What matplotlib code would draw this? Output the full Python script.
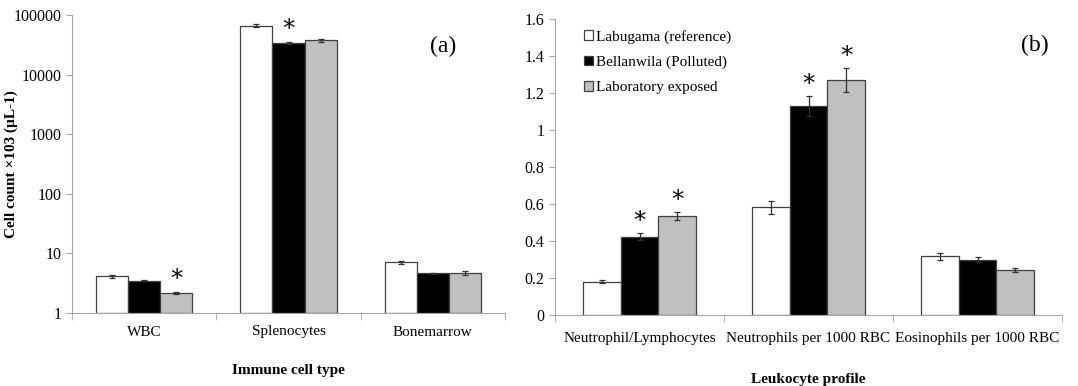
import numpy as np
import matplotlib
matplotlib.use('Agg')
import matplotlib.pyplot as plt

plt.rcParams['font.family'] = ['Liberation Serif', 'DejaVu Serif']

series = ["Labugama (reference)", "Bellanwila (Polluted)", "Laboratory exposed"]
colors = ["white", "black", "#c0c0c0"]

# panel (a): immune cell counts (log scale)
cells = ["WBC", "Splenocytes", "Bonemarrow"]
cell_means = [
    [4.1, 65800, 7.1],   # Labugama
    [3.5, 34000, 4.6],   # Bellanwila
    [2.15, 37500, 4.7],  # Laboratory
]
cell_err = [
    [0.25, 3500, 0.35],
    [0.08, 1800, 0.12],
    [0.1, 2200, 0.3],
]
cell_stars = [
    [False, False, False],
    [False, True, False],
    [True, False, False],
]

# panel (b): leukocyte profile
leuko = ["Neutrophil/Lymphocytes", "Neutrophils per 1000 RBC", "Eosinophils per 1000 RBC"]
leuko_means = [
    [0.18, 0.582, 0.318],
    [0.423, 1.13, 0.300],
    [0.533, 1.27, 0.242],
]
leuko_err = [
    [0.008, 0.035, 0.018],
    [0.018, 0.055, 0.015],
    [0.022, 0.065, 0.012],
]
leuko_stars = [
    [False, False, False],
    [True, True, False],
    [True, True, False],
]

W, H = 1078, 386
fig = plt.figure(figsize=(W / 100, H / 100), dpi=100)
ax1 = fig.add_axes([72 / W, 1 - 313 / H, 433 / W, 298 / H])
ax2 = fig.add_axes([555 / W, 1 - 315 / H, 507 / W, 296 / H])

spine_col = '#a6a6a6'
bar_w = 0.222


def draw_panel(ax, cats, means, errs, stars, log, pad):
    x = np.arange(len(cats))
    base = 1 if log else 0
    for i in range(3):
        pos = x + (i - 1) * bar_w
        ax.bar(pos, np.array(means[i]) - base, bar_w, bottom=base, color=colors[i],
               edgecolor='#404040', linewidth=0.9, label=series[i], zorder=2)
        ax.errorbar(pos, means[i], yerr=errs[i], fmt='none', ecolor='#303030',
                    elinewidth=0.9, capsize=2.5, capthick=0.9, zorder=3)
        for j in range(len(cats)):
            if stars[i][j]:
                top = means[i][j] + errs[i][j]
                y = top * 1.02 if log else top + 0.0
                ax.text(pos[j], y, '*', ha='center', va='bottom', fontsize=18,
                        family='DejaVu Sans', zorder=4)
    ax.set_xlim(-0.5, len(cats) - 0.5)
    ax.set_xticks(x)
    ax.set_xticklabels(cats, fontsize=11)
    ax.set_xticks(np.arange(-0.5, len(cats)), minor=True)
    ax.tick_params(axis='x', which='major', length=0, pad=pad)
    ax.tick_params(axis='x', which='minor', length=5, color=spine_col)
    ax.tick_params(axis='y', length=4, color=spine_col, labelsize=11.5)
    for s in ['top', 'right']:
        ax.spines[s].set_visible(False)
    for s in ['left', 'bottom']:
        ax.spines[s].set_color(spine_col)


draw_panel(ax1, cells, cell_means, cell_err, cell_stars, True, 9)
ax1.set_yscale('log')
ax1.set_ylim(1, 100000)
ax1.set_yticks([1, 10, 100, 1000, 10000, 100000])
ax1.set_yticklabels(['1', '10', '100', '1000', '10000', '100000'])
ax1.minorticks_off()
ax1.set_xticks(np.arange(-0.5, 3), minor=True)
ax1.tick_params(axis='x', which='minor', length=5, color=spine_col)
ax1.set_xlabel('Immune cell type', fontsize=11, fontweight='bold')
ax1.xaxis.set_label_coords(0.5, -(364 - 313) / 298)
ax1.set_ylabel('Cell count \u00d7103 (\u00b5L-1)', fontsize=11, fontweight='bold')
ax1.yaxis.set_label_coords(-(72 - 18) / 433, 0.5)
ax1.text(0.857, 0.896, '(a)', transform=ax1.transAxes, fontsize=17, ha='center', va='center')

draw_panel(ax2, leuko, leuko_means, leuko_err, leuko_stars, False, 12)
ax2.set_ylim(0, 1.6)
ax2.set_yticks(np.arange(0, 1.61, 0.2))
ax2.set_yticklabels(['0', '0.2', '0.4', '0.6', '0.8', '1', '1.2', '1.4', '1.6'])
ax2.set_xlabel('Leukocyte profile', fontsize=11, fontweight='bold')
ax2.xaxis.set_label_coords(0.5, -(373 - 315) / 296)
ax2.text(0.947, 0.912, '(b)', transform=ax2.transAxes, fontsize=17, ha='center', va='center')
ax2.legend(loc='upper left', bbox_to_anchor=(0.03, 1.01), frameon=False, fontsize=11,
           handlelength=0.6, handleheight=0.6, handletextpad=0.2, labelspacing=0.78)

fig.savefig('out.png', dpi=100)
